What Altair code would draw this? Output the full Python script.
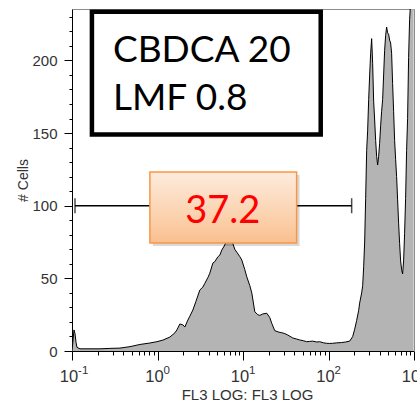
import altair as alt
import pandas as pd

# ---- histogram (FL3 LOG channel vs # cells) ----
FL3 = [0.1, 0.1055, 0.1084, 0.1114, 0.1144, 0.124, 0.2124, 0.2779, 0.3636, 0.4761,
       0.6229, 0.8151, 0.984, 1.156, 1.396, 1.597, 1.685, 1.827, 1.981, 2.090,
       2.265, 2.390, 2.592, 2.810, 3.128, 3.391, 3.578, 3.880, 4.094, 4.439,
       4.684, 5.078, 5.358, 5.653, 6.130, 6.467, 6.824, 7.201, 7.599, 8.020,
       8.464, 9.176, 9.683, 10.50, 11.08, 12.01, 12.67, 13.74, 14.89, 15.72,
       17.04, 18.97, 20.57, 21.70, 23.52, 26.20, 28.40, 30.78, 33.38, 38.18,
       42.52, 46.09, 51.33, 55.65, 60.32, 65.39, 72.82, 78.94, 87.87, 95.28,
       103.3, 112.0, 124.7, 142.6, 158.8, 176.9, 191.7, 202.4, 213.5, 225.4,
       231.5, 244.3, 251.0, 257.8, 264.8, 272.0, 279.5, 287.1, 294.9, 303.0,
       311.2, 319.7, 328.4, 337.3, 346.5, 356.0, 365.7, 375.6, 385.9, 396.4,
       407.2, 418.3, 429.7, 441.4, 453.4, 465.7, 478.4, 491.5, 504.9, 518.7,
       532.8, 547.3, 562.3, 577.6, 593.4, 609.5, 626.1, 643.2, 660.7, 678.8,
       697.3, 716.2, 735.8, 755.8, 776.4, 797.6, 819.4, 841.6, 864.6, 888.2,
       912.4, 937.6, 963.0, 989.3]
CELLS = [0, 14.5, 12, 6, 2.5, 1.5, 1.5, 1.8, 2.0, 3.0,
         4.5, 5.5, 6.4, 7.5, 9.6, 12.5, 14.5, 18.6, 18.0, 16.5,
         21.3, 24, 28.2, 34, 42, 44, 46.6, 50.5, 53.6, 60.5,
         61.5, 64.8, 66, 69.5, 73, 77, 78, 77, 74, 70,
         68, 65, 62.6, 56, 51, 45, 40, 27, 25, 24.5,
         25.5, 26, 23, 19, 14, 13, 12.6, 12, 11, 9,
         8.2, 7.6, 7.0, 6.4, 6.6, 6.8, 6.2, 6.4, 5.6, 5.3,
         5.2, 5.3, 5.6, 5.8, 6.2, 6.8, 9.9, 15, 21, 28,
         33, 40, 45, 58, 75, 105, 138, 152, 173, 190,
         205, 215, 198, 172, 159, 145, 134, 128, 134, 143,
         155, 165, 173, 190, 207, 217, 223, 219, 218, 214,
         212, 205, 184, 165, 145, 132, 120, 104, 88, 74,
         62, 56, 53, 62, 81, 105, 138, 160, 202, 228,
         240, 240, 240, 240]
assert len(FL3) == len(CELLS)

# ---- gate marker ----
GATE_X = [0.1084, 186.6]
GATE_Y = 100
GATE_LABEL = "37.2"

# ---- annotations ----
TITLE_LINES = ["CBDCA 20", "LMF 0.8"]

X_MAJOR = [0.1, 1, 10, 100, 1000]
X_EXPONENTS = ["-1", "0", "1", "2", "3"]
X_MINOR = [m * d for d in [0.1, 1, 10, 100] for m in range(2, 10)]
Y_MAJOR = [0, 50, 100, 150, 200]
Y_MINOR = list(range(0, 240, 10))

FONT = "Liberation Sans"
hist = pd.DataFrame({"fl3": FL3, "cells": CELLS})

xs = alt.Scale(type="log", domain=[0.1, 1000], nice=False)
ys = alt.Scale(domain=[0, 235.4], nice=False)

exp_expr = ("datum.value < 0.5 ? '%s' : datum.value < 5 ? '%s' : "
            "datum.value < 50 ? '%s' : datum.value < 500 ? '%s' : '%s'") % tuple(X_EXPONENTS)

x_major = alt.Axis(orient="bottom", values=X_MAJOR, labelExpr="'10'", tickSize=9,
                   tickColor="black", domainColor="black", labelFont=FONT,
                   labelFontSize=16.5, labelColor="#333333", labelPadding=21.7,
                   labelBaseline="alphabetic", labelAlign="right", labelOffset=5.6,
                   labelFlush=False, labelOverlap=False, grid=False,
                   title="FL3 LOG: FL3 LOG", titleFont=FONT, titleFontSize=15,
                   titleFontWeight="normal", titleColor="#333333", titleX=175,
                   titleY=48, titleBaseline="alphabetic", titleAlign="center")
x_exp = alt.Axis(orient="bottom", values=X_MAJOR, labelExpr=exp_expr, ticks=False,
                 domain=False, labelFont=FONT, labelFontSize=11.5,
                 labelColor="#333333", labelPadding=22.3, labelBaseline="alphabetic",
                 labelAlign="left", labelOffset=5.6, labelFlush=False,
                 labelOverlap=False, grid=False, title=None)
y_major = alt.Axis(orient="left", values=Y_MAJOR, tickSize=8, tickColor="black",
                   domainColor="black", labelFont=FONT, labelFontSize=15,
                   labelColor="#333333", labelPadding=7, labelFlush=False,
                   grid=False, title="# Cells", titleFont=FONT, titleFontSize=14,
                   titleFontWeight="normal", titleColor="#333333", titleX=-49,
                   titleY=171, titleAngle=270, titleBaseline="middle",
                   titleAlign="center")
x_minor = alt.Axis(orient="bottom", values=X_MINOR, tickSize=4, tickColor="black",
                   labels=False, domain=False, grid=False, title=None)
y_minor = alt.Axis(orient="left", values=Y_MINOR, tickSize=3, tickColor="black",
                   labels=False, domain=False, grid=False, title=None)
x_frame = alt.Axis(orient="top", ticks=False, labels=False, domainColor="#8c8c8c",
                   grid=False, title=None)
y_frame = alt.Axis(orient="right", ticks=False, labels=False, domainColor="#8c8c8c",
                   grid=False, title=None)

area = alt.Chart(hist).mark_area(color="#b4b4b4", clip=True).encode(
    x=alt.X("fl3:Q", scale=xs, axis=x_major),
    y=alt.Y("cells:Q", scale=ys, axis=y_major),
)
outline = alt.Chart(hist).mark_line(color="black", strokeWidth=1, clip=True).encode(
    x=alt.X("fl3:Q", scale=xs, axis=x_minor),
    y=alt.Y("cells:Q", scale=ys, axis=y_minor),
)

gate_df = pd.DataFrame({"x1": [GATE_X[0]], "x2": [GATE_X[1]], "y": [GATE_Y]})
gate = alt.Chart(gate_df).mark_rule(color="black", strokeWidth=1.5).encode(
    x=alt.X("x1:Q", scale=xs, axis=x_frame),
    x2="x2:Q",
    y=alt.Y("y:Q", scale=ys, axis=y_frame),
)
ends_df = pd.DataFrame({"x": GATE_X, "y": [GATE_Y, GATE_Y]})
ends = alt.Chart(ends_df).mark_tick(color="black", orient="vertical", size=15,
                                    thickness=1.5).encode(
    x=alt.X("x:Q", scale=xs, axis=x_exp),
    y=alt.Y("y:Q", scale=ys, axis=None),
)

# gate label box
lab_df = pd.DataFrame({"x1": [0.815], "x2": [42.4], "y1": [74.3], "y2": [123.2],
                       "tx": [5.81], "ty": [88.1], "t": [GATE_LABEL]})
shadow = alt.Chart(lab_df).mark_rect(color="black", opacity=0.15, xOffset=3,
                                     x2Offset=3, yOffset=3, y2Offset=3).encode(
    x=alt.X("x1:Q", scale=xs, axis=None), x2="x2:Q",
    y=alt.Y("y1:Q", scale=ys, axis=None), y2="y2:Q",
)
grad = alt.LinearGradient(gradient="linear",
                          stops=[alt.GradientStop(color="#fdebdc", offset=0),
                                 alt.GradientStop(color="#fbd3b0", offset=0.6),
                                 alt.GradientStop(color="#fabf8f", offset=1)],
                          x1=0, x2=0, y1=0, y2=1)
labbox = alt.Chart(lab_df).mark_rect(fill=grad, stroke="#f79646",
                                     strokeWidth=1.5).encode(
    x=alt.X("x1:Q", scale=xs, axis=None), x2="x2:Q",
    y=alt.Y("y1:Q", scale=ys, axis=None), y2="y2:Q",
)
labtext = alt.Chart(lab_df).mark_text(font="Lato", fontSize=38, color="#ff0000",
                                      align="center", baseline="alphabetic").encode(
    x=alt.X("tx:Q", scale=xs, axis=None),
    y=alt.Y("ty:Q", scale=ys, axis=None),
    text="t:N",
)

# condition box
cond_df = pd.DataFrame({"x1": [0.171], "x2": [81.1], "y1": [149.0], "y2": [233.5]})
condbox = alt.Chart(cond_df).mark_rect(fill="white", stroke="black",
                                       strokeWidth=4.5).encode(
    x=alt.X("x1:Q", scale=xs, axis=None), x2="x2:Q",
    y=alt.Y("y1:Q", scale=ys, axis=None), y2="y2:Q",
)
ctext_df = pd.DataFrame({"x": [0.301, 0.301], "y": [198.9, 165.9], "t": TITLE_LINES})
condtext = alt.Chart(ctext_df).mark_text(font="Lato", fontSize=37, color="black",
                                         align="left", baseline="alphabetic").encode(
    x=alt.X("x:Q", scale=xs, axis=None),
    y=alt.Y("y:Q", scale=ys, axis=None),
    text="t:N",
)

chart = alt.layer(
    area, outline, gate, ends, shadow, labbox, labtext, condbox, condtext
).resolve_axis(x="independent", y="independent").properties(
    width=342, height=342,
    autosize=alt.AutoSizeParams(type="none"),
    padding={"left": 72, "top": 9, "right": 3, "bottom": 51},
).configure_view(stroke=None).configure(background="white")

chart.save("out.html", embed_options={"renderer": "svg", "actions": False})
